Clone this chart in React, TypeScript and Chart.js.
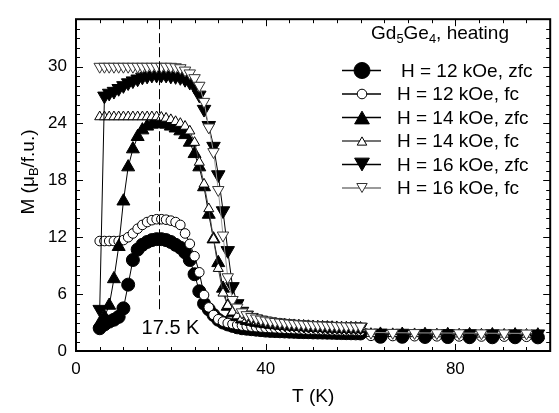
import { useEffect, useRef } from 'react';
import { Chart, registerables } from 'chart.js';

Chart.register(...registerables);

const FONT = '"Liberation Sans", Arial, Helvetica, sans-serif';

// Temperatures (K): dense sweep, then the sparse high-temperature points
const TEMP_DENSE = [
  5, 6, 7, 8, 9, 10, 11, 12, 13, 14, 15, 16, 17, 18, 19, 20, 21, 22, 23, 24,
  25, 26, 27, 28, 29, 30, 31, 32, 33, 34, 35, 36, 37, 38, 39, 40, 41, 42, 43, 44,
  45, 46, 47, 48, 49, 50, 51, 52, 53, 54, 55, 56, 57, 58, 59, 60,
];
const TEMP_SPARSE_ZFC = [64.2, 68.8, 73.6, 78.4, 83.0, 87.8, 92.6, 97.4];
const TEMP_SPARSE_FC = [62.2, 66.8, 71.4, 76.1, 80.8, 85.5, 90.3, 95.0];

// Magnetization (muB/f.u.)
const M_12_ZFC = [
  2.4, 2.8, 3.1, 3.3, 3.6, 4.5, 7.0, 9.6, 10.7, 11.2, 11.5, 11.7, 11.8, 11.8, 11.7, 11.5, 11.2, 10.9, 10.4, 9.6,
  8.1, 6.3, 5.0, 4.4, 3.8, 3.3, 3.0, 2.8, 2.65, 2.5, 2.4, 2.35, 2.3, 2.25, 2.2, 2.15, 2.12, 2.1, 2.08, 2.06,
  2.04, 2.02, 2.0, 1.99, 1.98, 1.96, 1.95, 1.94, 1.93, 1.92, 1.9, 1.89, 1.88, 1.87, 1.86, 1.85,
];
const M_12_ZFC_HIGH = [1.5, 1.5, 1.48, 1.47, 1.46, 1.45, 1.45, 1.44];

const M_12_FC = [
  11.6, 11.6, 11.6, 11.6, 11.6, 11.7, 12.0, 12.4, 12.9, 13.3, 13.6, 13.8, 13.9, 13.9, 13.85, 13.75, 13.6, 13.3, 12.4, 11.3,
  10.0, 8.3, 5.9, 4.6, 3.8, 3.35, 3.1, 2.95, 2.85, 2.75, 2.68, 2.62, 2.57, 2.52, 2.48, 2.45, 2.42, 2.4, 2.37, 2.35,
  2.33, 2.31, 2.29, 2.27, 2.25, 2.24, 2.22, 2.21, 2.2, 2.18, 2.17, 2.16, 2.15, 2.14, 2.13, 2.12,
];
const M_12_FC_HIGH = [1.6, 1.58, 1.56, 1.55, 1.54, 1.53, 1.52, 1.5];

const M_14_ZFC = [
  2.9, 3.6, 4.8, 7.6, 11.0, 15.8, 19.4, 21.3, 22.6, 23.3, 23.7, 23.9, 24.0, 24.0, 23.9, 23.7, 23.5, 23.2, 22.8, 22.0,
  20.8, 19.4, 17.3, 14.4, 11.8, 9.3, 6.6, 4.7, 4.0, 3.6, 3.35, 3.2, 3.1, 3.0, 2.92, 2.86, 2.8, 2.75, 2.7, 2.66,
  2.62, 2.59, 2.56, 2.53, 2.5, 2.48, 2.46, 2.44, 2.42, 2.4, 2.38, 2.36, 2.35, 2.34, 2.33, 2.32,
];
const M_14_ZFC_HIGH = [1.75, 1.74, 1.72, 1.71, 1.7, 1.69, 1.68, 1.67];

const M_14_FC = [
  24.7, 24.7, 24.7, 24.7, 24.7, 24.7, 24.7, 24.7, 24.7, 24.7, 24.7, 24.7, 24.7, 24.65, 24.55, 24.4, 24.2, 24.0, 23.7, 23.2,
  22.0, 19.9, 17.6, 15.0, 11.8, 8.7, 6.1, 4.8, 4.1, 3.7, 3.45, 3.3, 3.18, 3.08, 3.0, 2.93, 2.87, 2.82, 2.77, 2.73,
  2.69, 2.66, 2.63, 2.6, 2.57, 2.55, 2.53, 2.51, 2.49, 2.47, 2.45, 2.43, 2.42, 2.41, 2.4, 2.39,
];
const M_14_FC_HIGH = [1.85, 1.83, 1.82, 1.8, 1.79, 1.78, 1.77, 1.76];

const M_16_ZFC = [
  4.4, 26.9, 27.2, 27.4, 27.7, 28.0, 28.3, 28.5, 28.7, 28.9, 29.0, 29.1, 29.1, 29.1, 29.1, 29.0, 28.95, 28.85, 28.65, 28.35,
  27.9, 27.0, 25.5, 23.8, 21.6, 18.6, 14.8, 10.6, 6.8, 5.0, 4.2, 3.8, 3.55, 3.38, 3.25, 3.15, 3.07, 3.0, 2.94, 2.89,
  2.85, 2.81, 2.77, 2.74, 2.71, 2.68, 2.66, 2.64, 2.62, 2.6, 2.58, 2.56, 2.55, 2.54, 2.53, 2.52,
];
const M_16_ZFC_HIGH = [1.9, 1.88, 1.86, 1.85, 1.84, 1.83, 1.82, 1.81];

const M_16_FC = [
  30.0, 30.0, 30.0, 30.0, 30.0, 30.0, 30.0, 30.0, 30.0, 30.0, 30.0, 30.0, 30.0, 30.0, 30.0, 30.0, 29.95, 29.85, 29.6, 29.3,
  28.8, 28.0, 26.3, 23.6, 21.0, 17.0, 12.2, 7.8, 5.4, 4.6, 4.1, 3.8, 3.6, 3.45, 3.33, 3.23, 3.15, 3.08, 3.02, 2.97,
  2.92, 2.88, 2.84, 2.81, 2.78, 2.75, 2.73, 2.71, 2.69, 2.67, 2.65, 2.63, 2.62, 2.61, 2.6, 2.59,
];
const M_16_FC_HIGH = [1.95, 1.93, 1.91, 1.9, 1.89, 1.88, 1.87, 1.86];

const SERIES_LABELS = [
  'H = 12 kOe, zfc',
  'H = 12 kOe, fc',
  'H = 14 kOe, zfc',
  'H = 14 kOe, fc',
  'H = 16 kOe, zfc',
  'H = 16 kOe, fc',
];

const X_TICK_LABELS = [0, 40, 80];
const Y_TICK_LABELS = [0, 6, 12, 18, 24, 30];
const X_RANGE = [0, 100];
const Y_RANGE = [0, 35];

const PEAK_T = 17.5;
const PEAK_LINE_END_M = 4.3;
const PEAK_LABEL = '17.5 K';

const X_TITLE = 'T (K)';
const LEGEND_TITLE: { t: string; sub?: boolean }[] = [
  { t: 'Gd' }, { t: '5', sub: true }, { t: 'Ge' }, { t: '4', sub: true }, { t: ', heating' },
];
const Y_TITLE: { t: string; sub?: boolean }[] = [
  { t: 'M (\u03bc' }, { t: 'B', sub: true }, { t: '/f.u.)' },
];

type Marker = {
  shape: 'circle' | 'triangle';
  rotation: number;
  radius: number;
  legendRadius: number;
  fill: string;
  edge: string;
  line: string;
};

const MARKERS: Marker[] = [
  { shape: 'circle', rotation: 0, radius: 6.5, legendRadius: 8, fill: '#000', edge: '#000', line: '#000' },
  { shape: 'circle', rotation: 0, radius: 4.8, legendRadius: 4.8, fill: '#fff', edge: '#000', line: '#000' },
  { shape: 'triangle', rotation: 0, radius: 7.5, legendRadius: 8.5, fill: '#000', edge: '#000', line: '#000' },
  { shape: 'triangle', rotation: 0, radius: 5.8, legendRadius: 5.5, fill: '#fff', edge: '#000', line: '#444' },
  { shape: 'triangle', rotation: 180, radius: 7.8, legendRadius: 8.5, fill: '#000', edge: '#000', line: '#000' },
  { shape: 'triangle', rotation: 180, radius: 6.6, legendRadius: 6, fill: '#fff', edge: '#333', line: '#9a9a9a' },
];

const SERIES_DATA = [
  { t: [...TEMP_DENSE, ...TEMP_SPARSE_ZFC], m: [...M_12_ZFC, ...M_12_ZFC_HIGH] },
  { t: [...TEMP_DENSE, ...TEMP_SPARSE_FC], m: [...M_12_FC, ...M_12_FC_HIGH] },
  { t: [...TEMP_DENSE, ...TEMP_SPARSE_ZFC], m: [...M_14_ZFC, ...M_14_ZFC_HIGH] },
  { t: [...TEMP_DENSE, ...TEMP_SPARSE_FC], m: [...M_14_FC, ...M_14_FC_HIGH] },
  { t: [...TEMP_DENSE, ...TEMP_SPARSE_ZFC], m: [...M_16_ZFC, ...M_16_ZFC_HIGH] },
  { t: [...TEMP_DENSE, ...TEMP_SPARSE_FC], m: [...M_16_FC, ...M_16_FC_HIGH] },
];

function markerPath(ctx: CanvasRenderingContext2D, mk: Marker, x: number, y: number, r: number) {
  ctx.beginPath();
  if (mk.shape === 'circle') {
    ctx.arc(x, y, r, 0, Math.PI * 2);
  } else {
    let a = (mk.rotation * Math.PI) / 180;
    ctx.moveTo(x + Math.sin(a) * r, y - Math.cos(a) * r);
    a += (2 * Math.PI) / 3;
    ctx.lineTo(x + Math.sin(a) * r, y - Math.cos(a) * r);
    a += (2 * Math.PI) / 3;
    ctx.lineTo(x + Math.sin(a) * r, y - Math.cos(a) * r);
  }
  ctx.closePath();
}

function richWidth(ctx: CanvasRenderingContext2D, parts: { t: string; sub?: boolean }[], size: number) {
  let w = 0;
  for (const p of parts) {
    ctx.font = `${p.sub ? size * 0.68 : size}px ${FONT}`;
    w += ctx.measureText(p.t).width;
  }
  return w;
}

function drawRich(ctx: CanvasRenderingContext2D, parts: { t: string; sub?: boolean }[], x: number, y: number, size: number) {
  let cx = x;
  ctx.textBaseline = 'alphabetic';
  ctx.textAlign = 'left';
  for (const p of parts) {
    const s = p.sub ? size * 0.68 : size;
    ctx.font = `${s}px ${FONT}`;
    ctx.fillText(p.t, cx, p.sub ? y + size * 0.22 : y);
    cx += ctx.measureText(p.t).width;
  }
}

const decorPlugin = {
  id: 'decor',
  afterDatasetsDraw(chart: any) {
    const { ctx, chartArea, scales } = chart;
    const xs = scales.x;
    const ys = scales.y;
    ctx.save();
    // dashed guide at the peak temperature
    const px = Math.round(xs.getPixelForValue(PEAK_T)) + 0.5;
    const endY = ys.getPixelForValue(PEAK_LINE_END_M);
    ctx.strokeStyle = '#000';
    ctx.lineWidth = 1;
    ctx.setLineDash([10, 4]);
    ctx.beginPath();
    ctx.moveTo(px, chartArea.top);
    ctx.lineTo(px, endY);
    ctx.stroke();
    ctx.setLineDash([]);
    ctx.fillStyle = '#000';
    ctx.font = `20px ${FONT}`;
    ctx.textAlign = 'center';
    ctx.textBaseline = 'middle';
    ctx.fillText(PEAK_LABEL, px + 11, endY + 18);
    ctx.restore();
  },
  afterDraw(chart: any) {
    const { ctx, chartArea, scales } = chart;
    const xs = scales.x;
    const ys = scales.y;
    const { left, right, top, bottom } = chartArea;
    ctx.save();
    ctx.strokeStyle = '#000';
    // inward ticks on all four sides
    ctx.lineWidth = 1;
    ctx.beginPath();
    for (let v = Y_RANGE[0]; v <= Y_RANGE[1]; v += 1) {
      const y = Math.round(ys.getPixelForValue(v)) + 0.5;
      const len = v % 6 === 0 ? 7 : 4;
      ctx.moveTo(left, y);
      ctx.lineTo(left + len, y);
      ctx.moveTo(right, y);
      ctx.lineTo(right - len, y);
    }
    for (let v = X_RANGE[0]; v <= X_RANGE[1]; v += 5) {
      const x = Math.round(xs.getPixelForValue(v)) + 0.5;
      const len = v % 40 === 0 ? 7 : 4;
      ctx.moveTo(x, bottom);
      ctx.lineTo(x, bottom - len);
      ctx.moveTo(x, top);
      ctx.lineTo(x, top + len);
    }
    ctx.stroke();
    // frame
    ctx.lineWidth = 2;
    ctx.strokeRect(left, top, right - left, bottom - top);

    // axis titles
    ctx.fillStyle = '#000';
    ctx.font = `19px ${FONT}`;
    ctx.textAlign = 'center';
    ctx.textBaseline = 'middle';
    ctx.fillText(X_TITLE, (left + right) / 2, 397);

    ctx.save();
    ctx.translate(27, 172);
    ctx.rotate(-Math.PI / 2);
    const yw = richWidth(ctx, Y_TITLE, 19);
    drawRich(ctx, Y_TITLE, -yw / 2, 7, 19);
    ctx.restore();

    // legend
    const tw = richWidth(ctx, LEGEND_TITLE, 19);
    drawRich(ctx, LEGEND_TITLE, 440 - tw / 2, 39, 19);
    SERIES_LABELS.forEach((label, i) => {
      const mk = MARKERS[i];
      const y = 70.5 + i * 23.5;
      ctx.strokeStyle = mk.line;
      ctx.lineWidth = i === 5 ? 2 : 1.4;
      ctx.beginPath();
      ctx.moveTo(342, y);
      ctx.lineTo(381, y);
      ctx.stroke();
      const cy = mk.shape === 'triangle' ? y + (mk.rotation ? -mk.legendRadius * 0.25 : mk.legendRadius * 0.25) : y;
      markerPath(ctx, mk, 362, cy, mk.legendRadius);
      ctx.fillStyle = mk.fill;
      ctx.fill();
      ctx.strokeStyle = mk.edge;
      ctx.lineWidth = 1;
      ctx.stroke();
      ctx.fillStyle = '#000';
      ctx.font = `19px ${FONT}`;
      ctx.textAlign = 'left';
      ctx.textBaseline = 'middle';
      ctx.fillText(label, i === 0 ? 401 : 397, y + 1);
    });
    ctx.restore();
  },
};

export default function App() {
  const canvasRef = useRef<HTMLCanvasElement | null>(null);

  useEffect(() => {
    const canvas = canvasRef.current;
    if (!canvas) return;
    const datasets = SERIES_DATA.map((s, i) => {
      const mk = MARKERS[i];
      return {
        label: SERIES_LABELS[i],
        data: s.t.map((t, k) => ({ x: t, y: s.m[k] })),
        showLine: true,
        borderColor: mk.line,
        borderWidth: 1,
        pointStyle: mk.shape,
        pointRotation: mk.rotation,
        pointRadius: mk.radius,
        pointBackgroundColor: mk.fill,
        pointBorderColor: mk.edge,
        pointBorderWidth: 1,
        tension: 0,
        order: SERIES_DATA.length - 1 - i,
      };
    });

    const chart = new Chart(canvas, {
      type: 'scatter',
      data: { datasets },
      options: {
        animation: false,
        responsive: false,
        devicePixelRatio: 1,
        layout: { padding: { top: 6, right: 2, left: 0, bottom: 0 } },
        plugins: { legend: { display: false }, tooltip: { enabled: false } },
        scales: {
          x: {
            type: 'linear',
            min: X_RANGE[0],
            max: X_RANGE[1],
            grid: { display: false, drawTicks: false },
            border: { display: false },
            ticks: {
              stepSize: 40,
              includeBounds: false,
              padding: 8,
              color: '#000',
              font: { family: FONT, size: 17 },
              callback: (v: any) => (X_TICK_LABELS.includes(Number(v)) ? String(v) : ''),
            },
            afterFit: (s: any) => {
              s.height = 62;
            },
          },
          y: {
            type: 'linear',
            min: Y_RANGE[0],
            max: Y_RANGE[1],
            grid: { display: false, drawTicks: false },
            border: { display: false },
            ticks: {
              stepSize: 6,
              includeBounds: false,
              padding: 9,
              color: '#000',
              font: { family: FONT, size: 17 },
              callback: (v: any) => (Y_TICK_LABELS.includes(Number(v)) ? String(v) : ''),
            },
            afterFit: (s: any) => {
              s.width = 76;
            },
          },
        },
      },
      plugins: [decorPlugin],
    } as any);

    return () => chart.destroy();
  }, []);

  return (
    <div style={{ position: 'absolute', left: 0, top: 0, width: 559, height: 413, background: '#fff' }}>
      <canvas ref={canvasRef} width={559} height={413} />
    </div>
  );
}
